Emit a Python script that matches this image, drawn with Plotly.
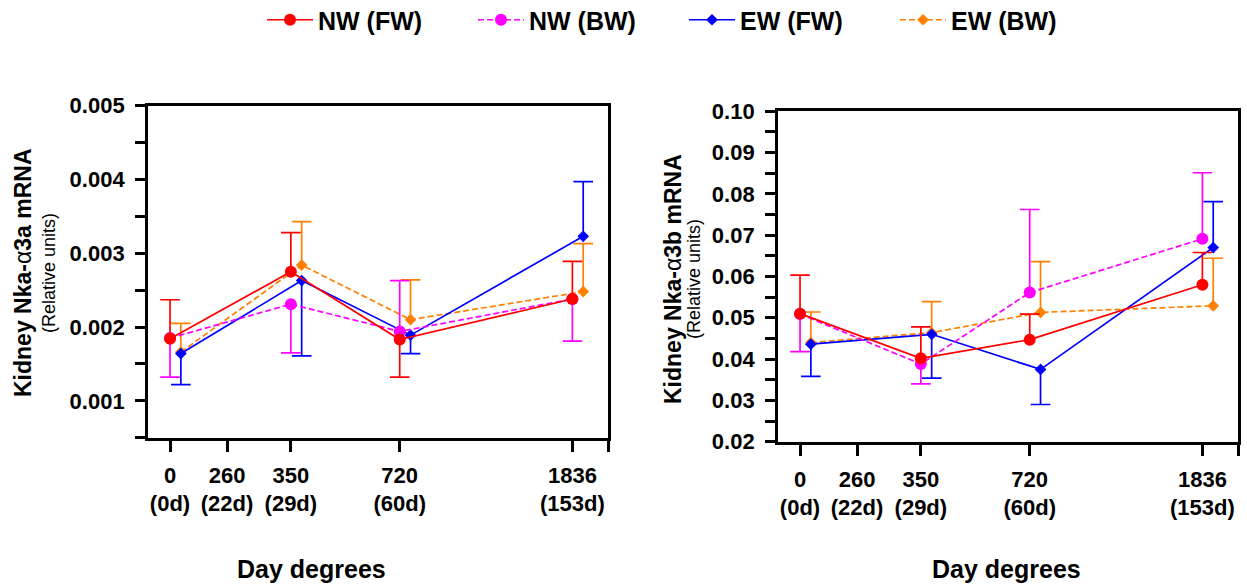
import plotly.graph_objects as go

W, H = 1247, 587

# ---------------- data ----------------
day_degrees = [0, 260, 350, 720, 1836]
day_labels = ["0d", "22d", "29d", "60d", "153d"]
sample_dd = [0, 350, 720, 1836]
series_names = ["NW (FW)", "NW (BW)", "EW (FW)", "EW (BW)"]

# Kidney Nka-α3a (left panel): means, upper error, lower error
a3a_nw_fw = [0.00184, 0.00275, 0.00183, 0.00238]
a3a_nw_fw_up = [0.00053, 0.00053, 0.0, 0.00051]
a3a_nw_fw_dn = [0.0, 0.0, 0.00051, 0.0]

a3a_nw_bw = [0.00185, 0.00231, 0.00194, 0.00238]
a3a_nw_bw_up = [0.0, 0.0, 0.00069, 0.0]
a3a_nw_bw_dn = [0.00053, 0.00066, 0.0, 0.00057]

a3a_ew_fw = [0.00164, 0.00263, 0.00189, 0.00323]
a3a_ew_fw_up = [0.0, 0.0, 0.0, 0.00074]
a3a_ew_fw_dn = [0.00042, 0.00102, 0.00025, 0.0]

a3a_ew_bw = [0.00166, 0.00284, 0.00210, 0.00248]
a3a_ew_bw_up = [0.00039, 0.00059, 0.00054, 0.00065]
a3a_ew_bw_dn = [0.0, 0.0, 0.0, 0.0]

# Kidney Nka-α3b (right panel)
a3b_nw_fw = [0.0510, 0.0402, 0.0447, 0.0580]
a3b_nw_fw_up = [0.0093, 0.0076, 0.0062, 0.0078]
a3b_nw_fw_dn = [0.0, 0.0, 0.0, 0.0]

a3b_nw_bw = [0.0509, 0.0388, 0.0561, 0.0691]
a3b_nw_bw_up = [0.0, 0.0, 0.0201, 0.0160]
a3b_nw_bw_dn = [0.0091, 0.0048, 0.0, 0.0]

a3b_ew_fw = [0.0436, 0.0460, 0.0375, 0.0670]
a3b_ew_fw_up = [0.0, 0.0, 0.0, 0.0111]
a3b_ew_fw_dn = [0.0078, 0.0106, 0.0085, 0.0]

a3b_ew_bw = [0.0440, 0.0464, 0.0513, 0.0529]
a3b_ew_bw_up = [0.0074, 0.0075, 0.0123, 0.0115]
a3b_ew_bw_dn = [0.0, 0.0, 0.0, 0.0]

# ---------------- axis geometry ----------------
# the original x axis is not linear in day degrees: position of each tick on the axis
axis_pos = {0: 0.0, 260: 1.0, 350: 2.12, 720: 4.03, 1836: 7.06}
ew_shift = 0.19
x_range = [-0.39, 7.69]

FONT = "Liberation Sans, Arial, sans-serif"
colors = ["#FF0000", "#FF00FF", "#0000FF", "#FF8000"]
symbols = ["circle", "circle", "diamond", "diamond"]
sizes = [12, 12, 9, 9]
dashes = ["solid", "6px,3px", "solid", "6px,3px"]
shift = [0.0, 0.0, ew_shift, ew_shift]

panels = [
    ("x", "y", [(a3a_nw_fw, a3a_nw_fw_up, a3a_nw_fw_dn),
                (a3a_nw_bw, a3a_nw_bw_up, a3a_nw_bw_dn),
                (a3a_ew_fw, a3a_ew_fw_up, a3a_ew_fw_dn),
                (a3a_ew_bw, a3a_ew_bw_up, a3a_ew_bw_dn)]),
    ("x2", "y2", [(a3b_nw_fw, a3b_nw_fw_up, a3b_nw_fw_dn),
                  (a3b_nw_bw, a3b_nw_bw_up, a3b_nw_bw_dn),
                  (a3b_ew_fw, a3b_ew_fw_up, a3b_ew_fw_dn),
                  (a3b_ew_bw, a3b_ew_bw_up, a3b_ew_bw_dn)]),
]

fig = go.Figure()
for pi, (xa, ya, sers) in enumerate(panels):
    for si in [3, 2, 1, 0]:
        mean, up, dn = sers[si]
        xs = [axis_pos[d] + shift[si] for d in sample_dd]
        # one-sided error bars
        ex, ey, cx, cy = [], [], [], []
        for x, m, u, d in zip(xs, mean, up, dn):
            if u > 0:
                ex += [x, x, None]; ey += [m, m + u, None]
                cx.append(x); cy.append(m + u)
            if d > 0:
                ex += [x, x, None]; ey += [m, m - d, None]
                cx.append(x); cy.append(m - d)
        fig.add_trace(go.Scatter(x=ex, y=ey, mode="lines", xaxis=xa, yaxis=ya,
                                 line=dict(color=colors[si], width=1.7),
                                 showlegend=False, hoverinfo="skip"))
        fig.add_trace(go.Scatter(x=cx, y=cy, mode="markers", xaxis=xa, yaxis=ya,
                                 marker=dict(symbol="line-ew", size=14,
                                             line=dict(color=colors[si], width=1.7)),
                                 showlegend=False, hoverinfo="skip"))
        fig.add_trace(go.Scatter(x=xs, y=mean, mode="lines+markers", xaxis=xa, yaxis=ya,
                                 name=series_names[si], legendrank=si + 1,
                                 showlegend=(pi == 0),
                                 line=dict(color=colors[si], width=1.7, dash=dashes[si]),
                                 marker=dict(symbol=symbols[si], size=sizes[si],
                                             color=colors[si], line=dict(width=0))))

tickvals = [axis_pos[d] for d in day_degrees] + [x_range[1] - 0.001]
ticktext = [f"{d}<br>({l})" for d, l in zip(day_degrees, day_labels)] + [""]

def px_x(p):
    return p / W

def px_y(p):
    return 1 - p / H

xcommon = dict(range=x_range, tickmode="array", tickvals=tickvals, ticktext=ticktext,
               showline=True, linecolor="black", linewidth=2.5, mirror=True,
               ticks="outside", ticklen=12, tickwidth=2.5, tickcolor="black",
               showgrid=False, zeroline=False, ticklabelstandoff=4,
               tickfont=dict(family=FONT, size=22, color="black", weight="bold"))
ycommon = dict(showline=True, linecolor="black", linewidth=2.5, mirror=True,
               ticks="outside", ticklen=10, tickwidth=2.5, tickcolor="black",
               showgrid=False, zeroline=False, ticklabelstandoff=6,
               tickfont=dict(family=FONT, size=22, color="black", weight="bold"))

fig.update_layout(
    width=W, height=H,
    margin=dict(l=0, r=0, t=0, b=0, autoexpand=False),
    paper_bgcolor="white", plot_bgcolor="white",
    showlegend=True,
    legend=dict(orientation="h", x=px_x(262), xanchor="left", y=px_y(-3), yanchor="top",
                font=dict(family=FONT, size=25, color="black", weight="bold"),
                entrywidth=150, entrywidthmode="pixels", itemwidth=46,
                bgcolor="rgba(0,0,0,0)"),
    xaxis=dict(domain=[px_x(147.8), px_x(608.3)], anchor="y", **xcommon),
    yaxis=dict(domain=[px_y(437.7), px_y(105.7)], anchor="x", range=[0.0005, 0.005],
               tickmode="linear", tick0=0, dtick=0.001, tickformat=".3f",
               minor=dict(ticks="outside", dtick=0.0005, tick0=0, ticklen=10,
                          tickwidth=2.5, tickcolor="black"),
               **ycommon),
    xaxis2=dict(domain=[px_x(777.8), px_x(1238.3)], anchor="y2", **xcommon),
    yaxis2=dict(domain=[px_y(441.7), px_y(111.2)], anchor="x2", range=[0.02, 0.10],
                tickmode="linear", tick0=0, dtick=0.01, tickformat=".2f",
                minor=dict(ticks="outside", dtick=0.005, tick0=0, ticklen=10,
                           tickwidth=2.5, tickcolor="black"),
                **ycommon),
)

annos = [
    dict(text="<b>Day degrees</b>", x=px_x(311.5), y=px_y(569), size=25, angle=0),
    dict(text="<b>Day degrees</b>", x=px_x(1006), y=px_y(569), size=25, angle=0),
    dict(text="<b>Kidney Nka-</b>α<b>3a mRNA</b>", x=px_x(23), y=px_y(273), size=23, angle=-90),
    dict(text="(Relative units)", x=px_x(49), y=px_y(273), size=18, angle=-90),
    dict(text="<b>Kidney Nka-</b>α<b>3b mRNA</b>", x=px_x(673), y=px_y(279), size=23, angle=-90),
    dict(text="(Relative units)", x=px_x(694), y=px_y(279), size=18, angle=-90),
]
for a in annos:
    fig.add_annotation(text=a["text"], x=a["x"], y=a["y"], xref="paper", yref="paper",
                       xanchor="center", yanchor="middle", showarrow=False,
                       textangle=a["angle"],
                       font=dict(family=FONT, size=a["size"], color="black"))

fig.write_html("out.html")
